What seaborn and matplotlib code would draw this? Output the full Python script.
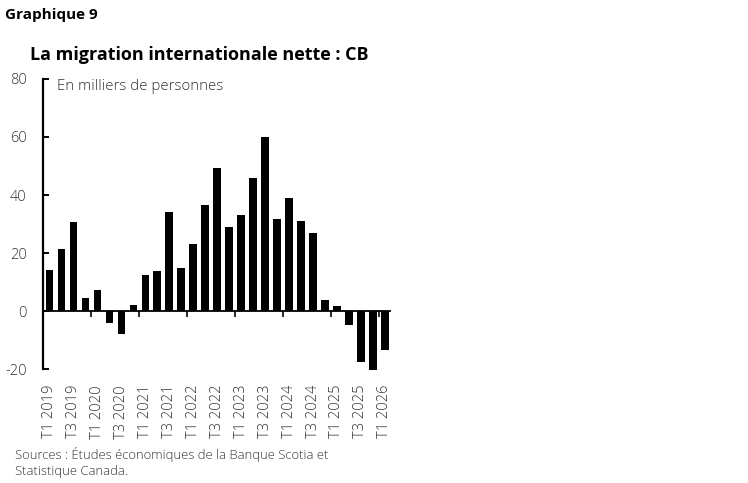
import matplotlib
matplotlib.use("Agg")
import matplotlib.pyplot as plt
import seaborn as sns
import pandas as pd

quarters = ["T1 2019", "T2 2019", "T3 2019", "T4 2019",
            "T1 2020", "T2 2020", "T3 2020", "T4 2020",
            "T1 2021", "T2 2021", "T3 2021", "T4 2021",
            "T1 2022", "T2 2022", "T3 2022", "T4 2022",
            "T1 2023", "T2 2023", "T3 2023", "T4 2023",
            "T1 2024", "T2 2024", "T3 2024", "T4 2024",
            "T1 2025", "T2 2025", "T3 2025", "T4 2025",
            "T1 2026"]
values = [14.2, 21.4, 30.7, 4.7,
          7.2, -4.2, -8.0, 2.2,
          12.4, 13.7, 34.2, 14.8,
          23.2, 36.7, 49.3, 28.9,
          33.2, 46.0, 60.0, 31.6,
          39.0, 31.1, 27.0, 4.0,
          1.9, -4.6, -17.4, -20.3,
          -13.5]
yticks = [-20, 0, 20, 40, 60, 80]

df = pd.DataFrame({"quarter": quarters, "value": values})

sns.set_theme(style="white")
plt.rcParams["font.family"] = ["Open Sans", "DejaVu Sans"]

fig = plt.figure(figsize=(7.48, 4.83), dpi=100)
ax = fig.add_axes([43.3 / 748, 112 / 483, 347 / 748, 293 / 483])

sns.barplot(data=df, x="quarter", y="value", color="black", width=0.64,
            saturation=1, ax=ax, order=quarters)
for p in ax.patches:
    p.set_edgecolor("none")

ymin, ymax = -20.6, 80.3
ax.set_ylim(ymin, ymax)
ax.set_xlim(-0.52, len(quarters) - 1 + 0.45)
ax.set_xlabel("")
ax.set_ylabel("")

for s in ["top", "right", "bottom"]:
    ax.spines[s].set_visible(False)
ax.spines["left"].set_bounds(-20, 80)
ax.spines["left"].set_color("black")
ax.spines["left"].set_linewidth(1.6)

light = "light"

ax.set_yticks(yticks)
ax.set_yticklabels([str(v) for v in yticks], fontweight=light)
ax.tick_params(axis="y", direction="in", length=4, width=1.4, color="black",
               pad=12, labelsize=10.5, labelcolor="#333333", left=True)

label_pos = [i for i, q in enumerate(quarters) if q.startswith("T1") or q.startswith("T3")]
ax.set_xticks(label_pos)
ax.set_xticklabels([quarters[i] for i in label_pos], rotation=90, fontweight=light)
ax.tick_params(axis="x", length=0, pad=10, labelsize=10.5, labelcolor="#333333",
               bottom=True)

# zero line with year-boundary ticks
zero_frac = (0 - ymin) / (ymax - ymin)
sec = ax.secondary_xaxis(zero_frac)
boundaries = [i - 0.5 for i, q in enumerate(quarters) if q.startswith("T1") and i > 0]
sec.set_xticks(boundaries)
sec.set_xticklabels([])
sec.tick_params(axis="x", direction="out", length=4, width=1.2, color="black")
sec.spines["bottom"].set_color("black")
sec.spines["bottom"].set_linewidth(1.3)

ax.text(0.04, 0.972, "En milliers de personnes", transform=ax.transAxes,
        ha="left", va="center", fontsize=10.8, color="#333333", fontweight=light)

fig.text(5 / 748, 1 - 15 / 483, "Graphique 9", ha="left", va="center",
         fontsize=11, fontweight="bold", color="black")
fig.text(30 / 748, 1 - 55 / 483, "La migration internationale nette : CB",
         ha="left", va="center", fontsize=13, fontweight="bold", color="black")
fig.text(15 / 748, 1 - 447 / 483,
         "Sources : Études économiques de la Banque Scotia et\nStatistique Canada.",
         ha="left", va="top", fontsize=9.4, color="#333333", linespacing=1.3,
         fontweight=light)

fig.savefig("out.png", dpi=100)
